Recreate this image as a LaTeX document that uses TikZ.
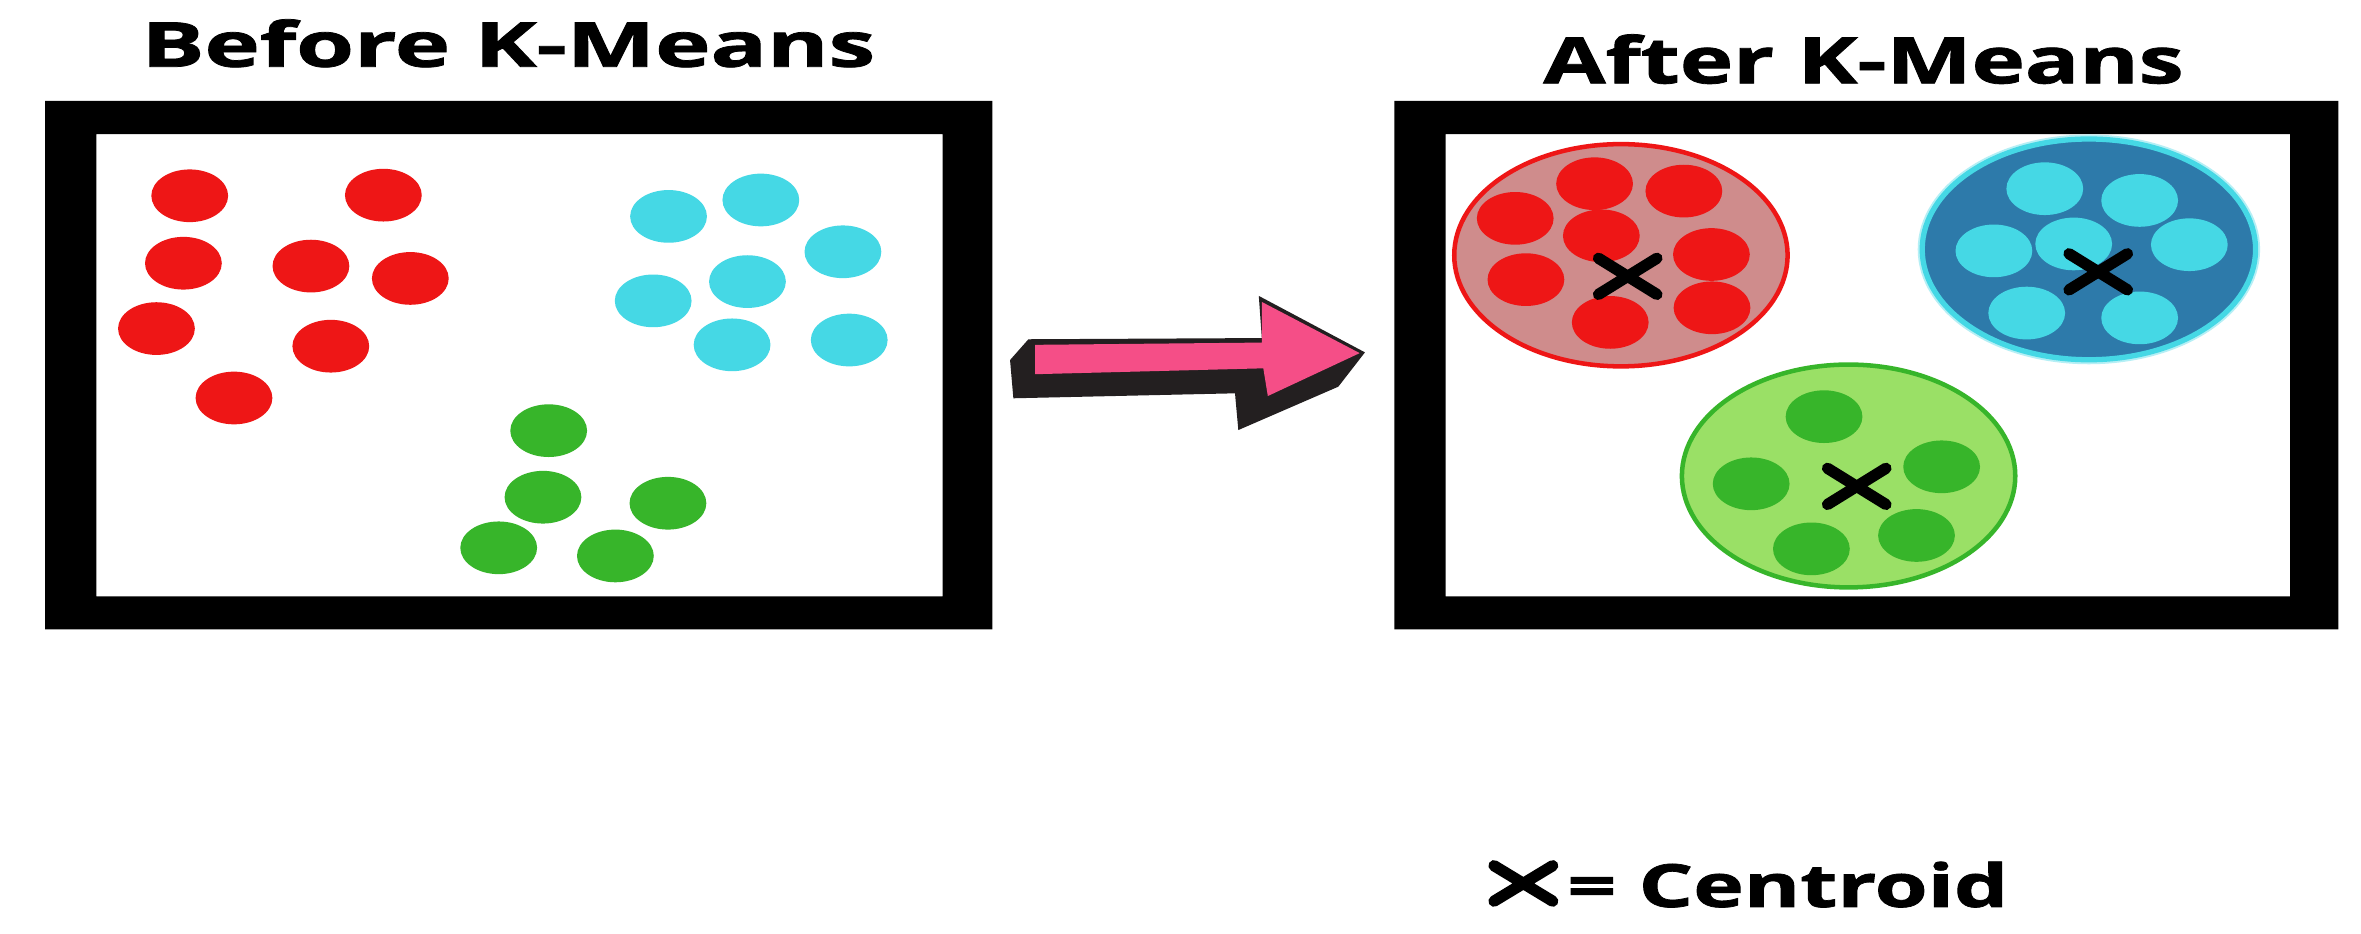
\documentclass[tikz,border=0pt]{standalone}
\usepackage{fontspec}
\setmainfont{Open Sans}
\newfontfamily\heavyfont{Open Sans}[UprightFont=*-Bold, FakeBold=1.2]
\usepackage{graphicx}
\definecolor{dotred}{RGB}{238,22,22}
\definecolor{dotcyan}{RGB}{69,216,229}
\definecolor{dotgreen}{RGB}{55,181,42}
\definecolor{clred}{RGB}{207,140,140}
\definecolor{clblue}{RGB}{45,122,170}
\definecolor{clgreen}{RGB}{154,224,102}
\definecolor{arrowpink}{RGB}{245,78,135}
\definecolor{arrowdark}{RGB}{35,31,32}
\tikzset{
  dotr/.style={fill=dotred},
  dotc/.style={fill=dotcyan},
  dotg/.style={fill=dotgreen},
  centroidx/.style={line width=0.075cm, line cap=round, draw=black},
  frame/.style={fill=black, even odd rule},
  title/.style={anchor=base west, inner sep=0pt, outer sep=0pt},
}
\newcommand{\dotat}[2]{\fill[#1] #2 ellipse [x radius=25.5, y radius=17.5];}
\newcommand{\crossat}[1]{\draw[centroidx] ($#1+(-19.4,-12)$) -- ($#1+(19.4,12)$) ($#1+(-19.4,12)$) -- ($#1+(19.4,-12)$);}
\usetikzlibrary{calc}
\begin{document}
\begin{tikzpicture}[x=0.01cm,y=-0.01cm]
\useasboundingbox (0,0) rectangle (1568,620);
\fill[white] (0,0) rectangle (1568,620);

% titles
\node[title] (before) at (94,44.3) {\resizebox{4.87cm}{0.315cm}{\heavyfont Before K-Means}};
\node[title] (after) at (1025,55.3) {\resizebox{4.25cm}{0.325cm}{\heavyfont After K-Means}};

% frames
\fill[frame] (30,67) rectangle (659,418) (64,89) rectangle (626,396);
\fill[frame] (926,67) rectangle (1553,418) (960,89) rectangle (1521,396);

% left dots
\foreach \p in {(126,130),(254.6,129.6),(121.8,174.8),(206.5,176.7),(272.5,184.9),(103.9,218.2),(219.7,229.9),(155.4,264.3)}
  {\dotat{dotr}{\p}}
\foreach \p in {(444,143.7),(505.3,132.8),(559.8,167.2),(496.4,187),(433.8,199.8),(486.2,229),(564,225.8)}
  {\dotat{dotc}{\p}}
\foreach \p in {(364.4,286),(360.6,330.2),(443.6,334.2),(331.2,363.8),(408.7,369.2)}
  {\dotat{dotg}{\p}}

% arrow
\fill[arrowdark] (670.8,239.1) -- (683,225.3) -- (838,224.5) -- (836,196.5) -- (906.5,234) -- (888.8,256.8) -- (822.4,285.6) -- (820.2,261.2) -- (673,264.5) -- cycle;
\fill[arrowpink] (687.4,229) -- (838,227.5) -- (838,200.5) -- (903,234.5) -- (842,263) -- (839,244.6) -- (687.4,248.5) -- cycle;

% clusters
\filldraw[fill=clred, draw=dotred, line width=0.03cm] (1076.5,169.5) ellipse [x radius=110.7, y radius=73.8];
\foreach \p in {(1059,122),(1118.3,126.9),(1006.3,145),(1063.5,156.6),(1136.6,169),(1013.4,185.7),(1137,204.4),(1069.4,214.1)}
  {\dotat{dotr}{\p}}
\crossat{(1081,183.5)}

\draw[draw=dotcyan!40, line width=0.06cm] (1387.3,165.6) ellipse [x radius=110.7, y radius=73.3];
\filldraw[fill=clblue, draw=dotcyan, line width=0.035cm] (1387.3,165.6) ellipse [x radius=110.7, y radius=73.3];
\foreach \p in {(1358,125.3),(1421,133.1),(1324.2,166.6),(1377.2,162),(1454,162.5),(1346,207.9),(1421,211.1)}
  {\dotat{dotc}{\p}}
\crossat{(1393.5,180.5)}

\filldraw[fill=clgreen, draw=dotgreen, line width=0.03cm] (1227.7,316.1) ellipse [x radius=110.7, y radius=74];
\foreach \p in {(1211.4,276.7),(1163,321.3),(1289.5,310),(1272.8,355.6),(1203,364.5)}
  {\dotat{dotg}{\p}}
\crossat{(1233.1,323)}

% legend
\draw[centroidx] (992.2,574.9) -- (1031.2,598.5) (992.2,598.5) -- (1031.2,574.9);
\node[title] (legend) at (1041,602.3) {\resizebox{2.925cm}{0.30cm}{\heavyfont = Centroid}};
\end{tikzpicture}
\end{document}
